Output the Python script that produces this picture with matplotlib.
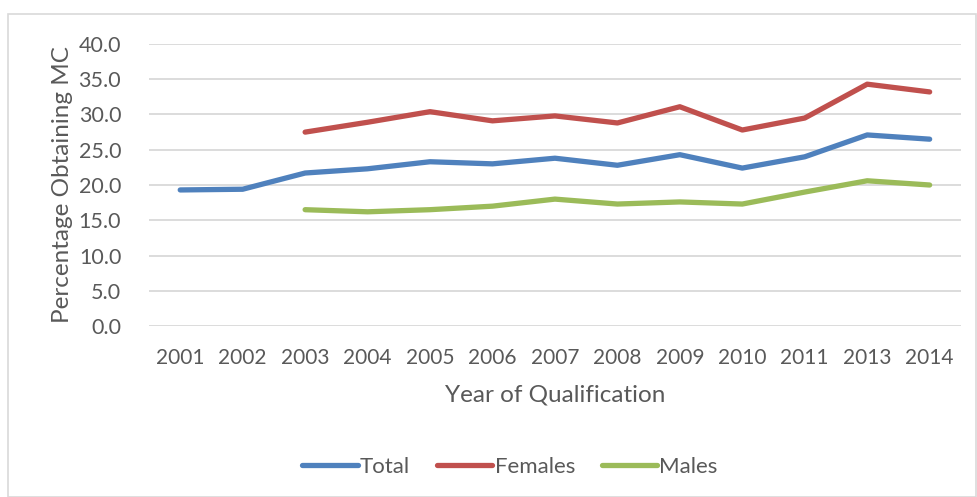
import numpy as np
import matplotlib
matplotlib.use("Agg")
import matplotlib.pyplot as plt
from matplotlib.patches import Rectangle

years = ["2001", "2002", "2003", "2004", "2005", "2006", "2007", "2008", "2009", "2010", "2011", "2013", "2014"]
total = [19.3, 19.4, 21.7, 22.3, 23.3, 23.0, 23.8, 22.8, 24.3, 22.4, 24.0, 27.1, 26.5]
females = [np.nan, np.nan, 27.5, 28.9, 30.4, 29.1, 29.8, 28.8, 31.1, 27.8, 29.5, 34.3, 33.2]
males = [np.nan, np.nan, 16.5, 16.2, 16.5, 17.0, 18.0, 17.3, 17.6, 17.3, 19.0, 20.6, 20.0]
yticks = [0, 5, 10, 15, 20, 25, 30, 35, 40]

plt.rcParams['font.family'] = ['Lato', 'DejaVu Sans']
txt = '#595959'

fig = plt.figure(figsize=(9.77, 4.97), dpi=100)
fig.patches.append(Rectangle((8/977, 0), 1 - 8/977 - 1/977, 1 - 14/497, transform=fig.transFigure,
                             fill=False, edgecolor='#D9D9D9', linewidth=1.2))
ax = fig.add_axes([0.1525, 0.344, 0.831, 0.5675])

x = np.arange(len(years))
ax.plot(x, total, color='#4F81BD', lw=3.8, label='Total', solid_capstyle='round', solid_joinstyle='round')
ax.plot(x, females, color='#C0504D', lw=3.8, label='Females', solid_capstyle='round', solid_joinstyle='round')
ax.plot(x, males, color='#9BBB59', lw=3.8, label='Males', solid_capstyle='round', solid_joinstyle='round')

ax.set_xlim(-0.5, len(years) - 0.5)
ax.set_ylim(0, 40)
ax.set_yticks(yticks)
ax.set_yticklabels([f"{v:.1f}" for v in yticks])
ax.set_xticks(x)
ax.set_xticklabels(years)
ax.grid(axis='y', color='#D9D9D9', linewidth=1.3)
ax.set_axisbelow(True)
for s in ax.spines.values():
    s.set_visible(False)
ax.tick_params(axis='y', length=0, labelsize=15.5, colors=txt, pad=20)
ax.tick_params(axis='x', length=0, labelsize=15, colors=txt, pad=16)
ax.set_xlabel('Year of Qualification', fontsize=17.5, color=txt, labelpad=12)
ax.set_ylabel('Percentage Obtaining MC', fontsize=17.5, color=txt, labelpad=4)

leg = fig.legend(loc='center', bbox_to_anchor=(0.522, 0.06), ncol=3, frameon=False,
                 fontsize=16, handlelength=2.5, handletextpad=0.1, columnspacing=1.2)
for t in leg.get_texts():
    t.set_color(txt)

fig.savefig('out.png', dpi=100)
